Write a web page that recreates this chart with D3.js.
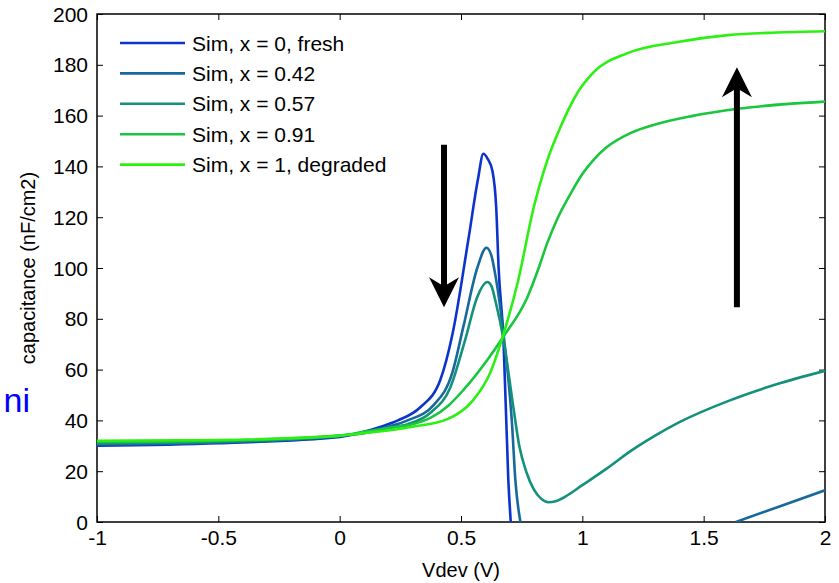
<!DOCTYPE html>
<html>
<head>
<meta charset="utf-8">
<script src="https://cdn.jsdelivr.net/npm/d3@7"></script>
<style>
  body { margin: 0; background: #fff; }
  text { font-family: "Liberation Sans", Arial, sans-serif; }
</style>
</head>
<body>
<script>
// series: [Vdev, capacitance]; null = curve leaves the plot (below 0)
const fresh = [[-1,30],[-0.5,31],[0,33.5],[0.1,35.5],[0.17,37.5],[0.24,40],[0.33,45],[0.415,56],[0.465,74],
  [0.53,111],[0.57,135],[0.592,145],[0.61,143],[0.63,138],[0.645,124],[0.655,100],[0.675,72],[0.695,16.5],[0.705,0]];
const x042 = [[-1,30.5],[-0.5,31.3],[0,33.8],[0.1,35.3],[0.2,37.5],[0.28,40],[0.387,46],[0.465,59],[0.51,77],
  [0.567,100],[0.605,108],[0.625,105],[0.642,97],[0.675,74],[0.71,39],[0.724,16.5],[0.745,0],[1.2,null],
  [1.632,0],[1.818,6.3],[2.0,12.5]];
const x057 = [[-1,31],[-0.5,31.6],[0,34],[0.1,35],[0.2,37],[0.28,38.5],[0.374,43],[0.456,53],[0.518,72],
  [0.567,88.6],[0.608,94.5],[0.625,93],[0.642,87],[0.675,72],[0.716,45],[0.74,30],[0.77,19.5],[0.8,12.8],
  [0.83,9.2],[0.86,7.8],[0.89,8.2],[0.93,10],[1.0,14.5],[1.1,21],[1.2,28],[1.3,34],[1.4,39.3],[1.6,47.6],
  [1.8,54.2],[2.0,59.5]];
const x091 = [[-1,31.5],[-0.5,32],[0,34],[0.1,35.5],[0.2,37],[0.3,38.5],[0.374,41],[0.45,46],[0.51,52],
  [0.61,64],[0.675,73],[0.774,88.6],[0.82,100],[0.856,110],[0.9,120],[0.95,129],[1.0,137],[1.05,143],
  [1.1,147.5],[1.2,153.2],[1.3,156.5],[1.45,159.8],[1.65,162.8],[1.85,164.6],[2.0,165.5]];
const degraded = [[-1,32],[-0.5,32.3],[0,34],[0.1,35],[0.2,36],[0.3,37.5],[0.444,40.5],[0.55,48],[0.62,58.7],
  [0.675,74],[0.733,94],[0.8,124],[0.856,142.5],[0.91,155.5],[0.98,169],[1.046,177],[1.186,184.6],[1.393,189],
  [1.6,191.7],[1.8,192.7],[2.0,193.2]];

const seriesNames = ["Sim, x = 0, fresh", "Sim, x = 0.42", "Sim, x = 0.57", "Sim, x = 0.91", "Sim, x = 1, degraded"];
const seriesData = [fresh, x042, x057, x091, degraded];
const seriesColors = ["#0c34cc", "#17699c", "#14917a", "#19c63e", "#2cf014"];

const xTicks = [-1, -0.5, 0, 0.5, 1, 1.5, 2];
const yTicks = [0, 20, 40, 60, 80, 100, 120, 140, 160, 180, 200];

// arrows: [x, from, to]
const arrows = [[0.43, 148.5, 84.5], [1.637, 84.5, 179]];

const W = 839, H = 583;
const margin = {top: 14, right: 14, bottom: 61, left: 97};
const width = W - margin.left - margin.right;
const height = H - margin.top - margin.bottom;

const root = d3.select("body").append("svg")
   .attr("width", W)
   .attr("height", H);

const svg = root.append("g")
   .attr("transform", "translate(" + margin.left + "," + margin.top + ")");

const x = d3.scaleLinear().domain([-1, 2]).range([0, width]);
const y = d3.scaleLinear().domain([0, 200]).range([height, 0]);

svg.append("defs").append("clipPath").attr("id", "plot")
   .append("rect").attr("width", width).attr("height", height);

// axes, ticks pointing inward
function styleAxis(g) {
  g.select(".domain").remove();
  g.selectAll("line").attr("stroke", "#000").attr("stroke-width", 1);
  g.selectAll("text").attr("fill", "#000").style("font-size", "21px")
    .style("font-family", "'Liberation Sans', Arial, sans-serif");
}
svg.append("g")
   .attr("transform", "translate(0," + height + ")")
   .call(d3.axisBottom(x).tickValues(xTicks).tickSize(-6).tickPadding(8).tickFormat(d => String(d)))
   .call(styleAxis);
svg.append("g")
   .call(d3.axisLeft(y).tickValues(yTicks).tickSize(-6).tickPadding(9).tickFormat(d => String(d)))
   .call(styleAxis)
   .selectAll("text").attr("dy", "0.34em");
svg.append("g")
   .call(d3.axisTop(x).tickValues(xTicks).tickSize(-6).tickFormat(""))
   .call(styleAxis);
svg.append("g")
   .attr("transform", "translate(" + width + ",0)")
   .call(d3.axisRight(y).tickValues(yTicks).tickSize(-6).tickFormat(""))
   .call(styleAxis);

// box
svg.append("rect")
   .attr("width", width).attr("height", height)
   .attr("fill", "none").attr("stroke", "#000").attr("stroke-width", 1.5);

// curves
const line = d3.line()
   .defined(d => d[1] !== null)
   .x(d => x(d[0])).y(d => y(d[1]))
   .curve(d3.curveMonotoneX);

svg.append("g").attr("clip-path", "url(#plot)")
   .selectAll("path")
   .data(seriesData)
   .enter()
   .append("path")
   .attr("d", line)
   .attr("fill", "none")
   .attr("stroke", (d, i) => seriesColors[i])
   .attr("stroke-width", 2.6)
   .attr("stroke-linejoin", "round");

// arrows
arrows.forEach(a => {
  const ax = x(a[0]), y0 = y(a[1]), y1 = y(a[2]);
  const dir = y1 > y0 ? 1 : -1;
  svg.append("line")
     .attr("x1", ax).attr("x2", ax)
     .attr("y1", y0).attr("y2", y1 - dir * 20)
     .attr("stroke", "#000").attr("stroke-width", 6);
  svg.append("path")
     .attr("d", "M" + ax + "," + y1 +
        "L" + (ax - 15) + "," + (y1 - dir * 30) +
        "L" + ax + "," + (y1 - dir * 21) +
        "L" + (ax + 15) + "," + (y1 - dir * 30) + "Z")
     .attr("fill", "#000");
});

// legend
const legend = svg.append("g").attr("transform", "translate(23,29)");
seriesNames.forEach((name, i) => {
  legend.append("line")
     .attr("x1", 0).attr("x2", 65)
     .attr("y1", i * 30.4).attr("y2", i * 30.4)
     .attr("stroke", seriesColors[i]).attr("stroke-width", 2.6);
  legend.append("text")
     .attr("x", 72).attr("y", i * 30.4)
     .attr("dy", "0.36em")
     .style("font-size", "21px")
     .text(name);
});

// axis titles
svg.append("text")
   .attr("x", width / 2)
   .attr("y", height + 55)
   .attr("text-anchor", "middle")
   .style("font-size", "20px")
   .text("Vdev (V)");

svg.append("text")
   .attr("transform", "rotate(-90)")
   .attr("x", -height / 2)
   .attr("y", -62)
   .attr("text-anchor", "middle")
   .style("font-size", "20px")
   .text("capacitance (nF/cm2)");

// stray blue label at the left edge
root.append("text")
   .attr("x", 30).attr("y", 412)
   .attr("text-anchor", "end")
   .attr("fill", "#0000ff")
   .style("font-size", "34px")
   .text("ni");
</script>
</body>
</html>
